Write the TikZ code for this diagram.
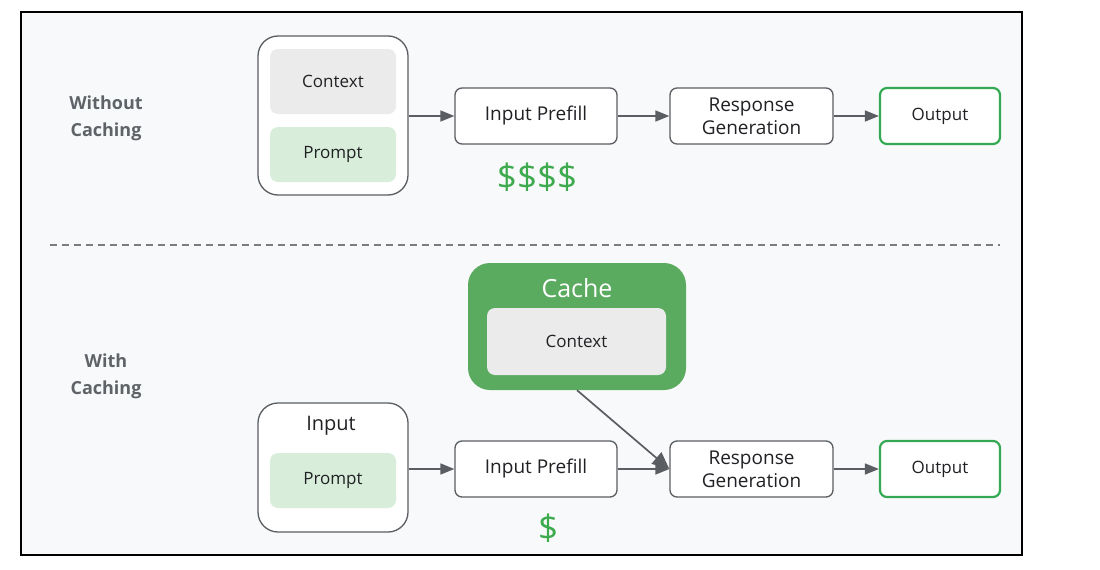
\documentclass[tikz,border=0pt]{standalone}
\usepackage{fontspec}
\setmainfont{Open Sans}
\usetikzlibrary{arrows.meta}
\definecolor{bg}{HTML}{F8F9FA}
\definecolor{linegray}{HTML}{5A5D61}
\definecolor{textdark}{HTML}{202124}
\definecolor{headgray}{HTML}{5F6368}
\definecolor{gborder}{HTML}{34A853}
\definecolor{cachegreen}{HTML}{5AAA5F}
\definecolor{lightgreen}{HTML}{D8EEDA}
\definecolor{lightgray}{HTML}{EBEBEB}
\definecolor{dollar}{HTML}{3DAA4E}
\begin{document}
\begin{tikzpicture}[x=1pt,y=-1pt,
  box/.style={draw=linegray, line width=1.3pt, fill=white, rounded corners=7pt,
    align=center, inner sep=0pt, text=textdark, font=\fontsize{19}{23}\selectfont},
  outbox/.style={box, draw=gborder, line width=2.2pt, font=\fontsize{17}{20}\selectfont},
  bigbox/.style={draw=linegray, line width=1.3pt, fill=white, rounded corners=20pt, inner sep=0pt},
  ctxbox/.style={fill=lightgray, rounded corners=8pt, inner sep=0pt, text=textdark, font=\fontsize{17}{20}\selectfont},
  prmbox/.style={fill=lightgreen, rounded corners=8pt, inner sep=0pt, text=textdark, font=\fontsize{17}{20}\selectfont},
  head/.style={align=center, text=headgray, font=\bfseries\fontsize{18}{27}\selectfont},
  arr/.style={draw=linegray, line width=1.5pt, -{Triangle[length=14pt,width=11pt]}},
  bigarr/.style={draw=linegray, line width=1.7pt, -{Triangle[length=17pt,width=15pt]}},
  money/.style={text=dollar, font=\fontsize{35}{40}\selectfont}
]
\useasboundingbox (0,0) rectangle (1100,570);
\fill[white] (0,0) rectangle (1100,570);
\draw[fill=bg, line width=2pt, draw=black] (21,12) rectangle (1022,555);

% ---- Without caching ----
\node[head] (h1) at (106,118) {Without\\Caching};
\node[bigbox, minimum width=150pt, minimum height=159pt] (inA) at (333,115.5) {};
\node[ctxbox, minimum width=126pt, minimum height=65pt] (ctxA) at (333,81.5) {Context};
\node[prmbox, minimum width=126pt, minimum height=55pt] (prA) at (333,154.5) {Prompt};
\node[box, minimum width=162pt, minimum height=56pt] (pfA) at (536,116) {Input Prefill};
\node[box, minimum width=163pt, minimum height=56pt] (rgA) at (751.5,116) {Response\\Generation};
\node[outbox, minimum width=120pt, minimum height=56pt] (outA) at (940,116) {Output};
\node[money] (dA) at (537,177) {\$\$\$\$};
\draw[arr] (inA.east |- pfA.west) -- (pfA.west);
\draw[arr] (pfA.east) -- (rgA.west);
\draw[arr] (rgA.east) -- (outA.west);

% ---- divider ----
\coordinate (dl) at (50,245);
\coordinate (dr) at (1000,245);
\draw[linegray!80, line width=1.2pt, dash pattern=on 7pt off 5pt] (dl) -- (dr);

% ---- With caching ----
\node[head] (h2) at (106,376) {With\\Caching};
\node[draw=none, fill=cachegreen, rounded corners=22pt, minimum width=218pt, minimum height=127pt, inner sep=0pt] (cache) at (577,326.5) {};
\node[text=white, font=\fontsize{25}{30}\selectfont] (cachelbl) at (577,288) {Cache};
\node[ctxbox, minimum width=179pt, minimum height=67pt] (ctxB) at (576.5,341.5) {Context};
\node[bigbox, minimum width=150pt, minimum height=129pt] (inB) at (333,467.5) {};
\node[text=textdark, font=\fontsize{20}{24}\selectfont] (inlbl) at (331,426) {Input};
\node[prmbox, minimum width=126pt, minimum height=55pt] (prB) at (333,480.5) {Prompt};
\node[box, minimum width=162pt, minimum height=56pt] (pfB) at (536,469) {Input Prefill};
\node[box, minimum width=163pt, minimum height=56pt] (rgB) at (751.5,469) {Response\\Generation};
\node[outbox, minimum width=120pt, minimum height=56pt] (outB) at (940,469) {Output};
\node[money] (dB) at (548,528) {\$};
\draw[arr] (inB.east |- pfB.west) -- (pfB.west);
\draw[arr] (pfB.east) -- (rgB.west);
\draw[arr] (rgB.east) -- (outB.west);
\draw[bigarr] (cache.south) -- (rgB.west);
\end{tikzpicture}
\end{document}
